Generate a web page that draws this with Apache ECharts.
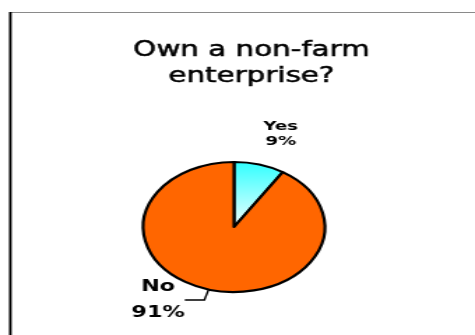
<!DOCTYPE html>
<html>
<head>
<meta charset="utf-8">
<script src="https://cdn.jsdelivr.net/npm/echarts@6/dist/echarts.min.js"></script>
<style>
  html, body { margin: 0; padding: 0; width: 475px; height: 335px; overflow: hidden; background: #fff; }
  /* the chart is laid out on a narrower canvas and widened to the page */
  #chart { width: 340px; height: 335px; transform: scaleX(1.397); transform-origin: 0 0; }
</style>
</head>
<body>
<div id="chart"></div>
<script>
// Share of households owning a non-farm enterprise (percent)
const categories = ['Yes', 'No'];
const shares = [9, 91];
const titleText = 'Own a non-farm\nenterprise?';

const FONT = 'DejaVu Sans';

// Per-slice look: fill, label size and leader line
const sliceLook = [
  {
    itemStyle: {
      color: {
        type: 'linear', x: 0, y: 0, x2: 0, y2: 1,
        colorStops: [{ offset: 0, color: '#2EFFFF' }, { offset: 1, color: '#F4FFFF' }]
      }
    },
    label: { fontSize: 13, lineHeight: 15, distanceToLabelLine: -6 },
    labelLine: { show: false, length: 32, length2: 0 }
  },
  {
    itemStyle: { color: '#FF6600' },
    label: { fontSize: 16, lineHeight: 26, distanceToLabelLine: 0, padding: [12, 0, 0, 0] },
    labelLine: { show: true, length: 11, length2: 14 }
  }
];

const chart = echarts.init(document.getElementById('chart'), null, { renderer: 'canvas' });

chart.setOption({
  animation: false,
  backgroundColor: '#fff',
  title: {
    text: titleText,
    left: 180,
    top: 38,
    padding: 0,
    textAlign: 'center',
    textStyle: {
      fontFamily: FONT, fontSize: 21, fontWeight: 'normal', lineHeight: 26, color: '#000',
      textBorderColor: '#000', textBorderWidth: 0.5
    }
  },
  graphic: [
    { type: 'line', shape: { x1: 7.4, y1: 12.5, x2: 340, y2: 12.5 }, style: { stroke: '#8a8a8a', lineWidth: 1 } },
    { type: 'line', shape: { x1: 7.4, y1: 12, x2: 7.4, y2: 335 }, style: { stroke: '#000', lineWidth: 1.9 } }
  ],
  series: [{
    type: 'pie',
    left: 0, top: 0, width: 340, height: 335,
    center: [167.5, 227],
    radius: 65,
    startAngle: 90,
    clockwise: true,
    avoidLabelOverlap: false,
    emphasis: { disabled: true },
    itemStyle: { borderColor: '#000', borderWidth: 2.2 },
    label: {
      show: true,
      position: 'outside',
      alignTo: 'none',
      formatter: '{b}\n{c}%',
      color: '#000',
      fontFamily: FONT,
      fontWeight: 'bold'
    },
    labelLine: { smooth: false, lineStyle: { color: '#000', width: 1.4 } },
    // centre each line of a label over the other
    labelLayout: function (p) {
      const out = { x: p.labelRect.x + p.labelRect.width / 2, align: 'center' };
      if (p.labelLinePoints) out.labelLinePoints = p.labelLinePoints;
      return out;
    },
    data: categories.map((name, i) => Object.assign({ name: name, value: shares[i] }, sliceLook[i]))
  }]
});
</script>
</body>
</html>
